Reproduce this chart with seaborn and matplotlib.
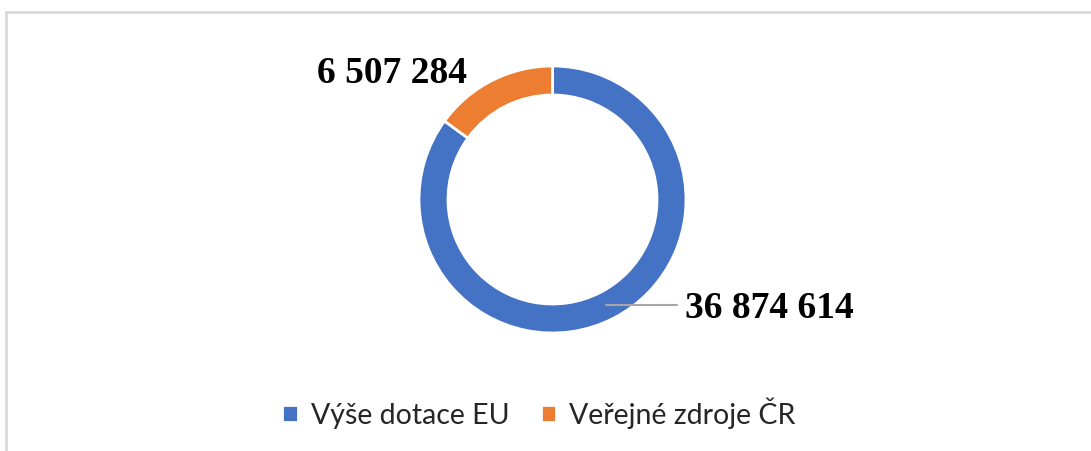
"""Donut chart: EU subsidy vs. Czech public sources."""

import matplotlib

matplotlib.use("Agg")
import matplotlib.pyplot as plt
import seaborn as sns
from matplotlib.patches import Rectangle

categories = ["Výše dotace EU", "Veřejné zdroje ČR"]
amounts = [36874614, 6507284]
amount_labels = ["36 874 614", "6 507 284"]
colors = ["#4472C4", "#ED7D31"]

W, H = 1091, 451

sns.set_theme(style="white")
plt.rcParams["font.family"] = ["Lato", "DejaVu Sans"]

fig = plt.figure(figsize=(W / 100, H / 100), dpi=100)
ax = fig.add_axes([0, 0, 1, 1])

# chart frame
ax.add_patch(Rectangle((6, -20), W + 20, H - 12 + 20, fill=False,
                       edgecolor="#d9d9d9", linewidth=2, clip_on=False))

wedges, _ = ax.pie(
    amounts,
    colors=colors,
    startangle=90,
    counterclock=False,
    center=(552.5, H - 199.5),
    radius=133.5,
    frame=True,
    wedgeprops=dict(width=29, edgecolor="white", linewidth=2),
)
ax.set_xlim(0, W)
ax.set_ylim(0, H)
ax.set_aspect("equal")
ax.axis("off")

label_font = dict(family=["Liberation Serif", "DejaVu Serif"], fontweight="bold",
                  fontsize=27, color="black")
ax.plot([606, 677], [H - 305, H - 305], color="#a6a6a6", linewidth=1.5)
ax.text(685, H - 318, amount_labels[0], ha="left", va="baseline", **label_font)
ax.text(317, H - 83, amount_labels[1], ha="left", va="baseline", **label_font)

fig.legend(
    wedges,
    categories,
    loc="center",
    bbox_to_anchor=(539 / W, 1 - 413 / H),
    ncol=2,
    frameon=False,
    fontsize=20.5,
    handlelength=0.55,
    handleheight=0.55,
    handletextpad=0.45,
    columnspacing=1.1,
)

fig.savefig("out.png", dpi=100, facecolor="white")
